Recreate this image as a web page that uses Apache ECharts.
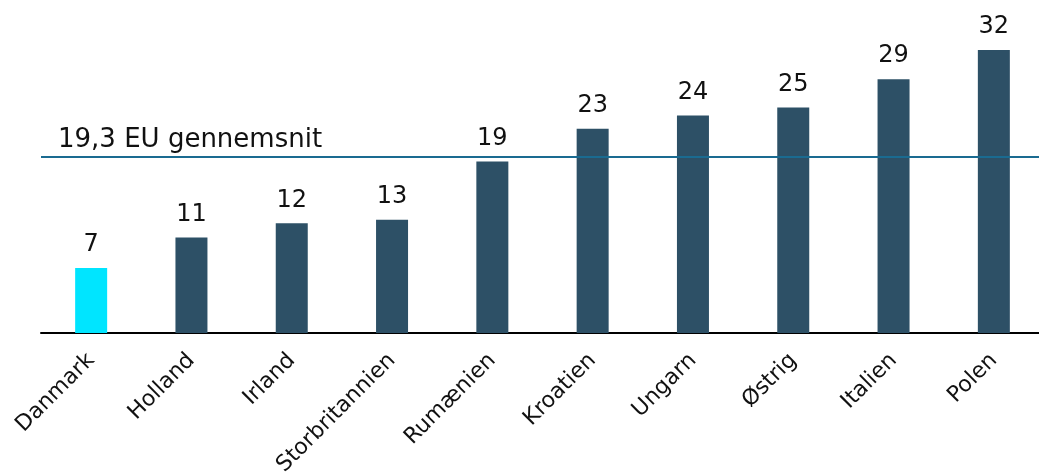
<!DOCTYPE html>
<html>
<head>
<meta charset="utf-8">
<script src="https://cdn.jsdelivr.net/npm/echarts@6/dist/echarts.min.js"></script>
<style>
html,body{margin:0;padding:0;background:#fff;}
#chart{width:1039px;height:474px;}
</style>
</head>
<body>
<div id="chart"></div>
<script>
var categories = ['Danmark','Holland','Irland','Storbritannien','Rumænien','Kroatien','Ungarn','Østrig','Italien','Polen'];
var values = [7.35, 10.8, 12.4, 12.8, 19.4, 23.1, 24.6, 25.5, 28.7, 32];
var valueLabels = ['7','11','12','13','19','23','24','25','29','32'];
var highlightCategory = 'Danmark';
var euLevel = 19.9;
var euText = '19,3 EU gennemsnit';

var FONT = 'DejaVu Sans';
var chart = echarts.init(document.getElementById('chart'), null, {renderer:'canvas'});
chart.setOption({
  animation: false,
  backgroundColor: '#fff',
  grid: {left: 41, right: -5, top: 50, bottom: 141, containLabel: false, outerBoundsMode: 'none'},
  xAxis: {
    type: 'category',
    data: categories,
    axisLine: {show: true, lineStyle: {color: '#000', width: 2}},
    axisTick: {show: false},
    splitLine: {show: false},
    axisLabel: {
      interval: 0, rotate: 45, margin: 24,
      fontFamily: FONT, fontSize: 22, color: '#111'
    }
  },
  yAxis: {
    type: 'value', min: 0, max: 32, show: false,
    splitLine: {show: false}
  },
  series: [{
    type: 'bar',
    barWidth: 32,
    data: values.map(function(v, i){
      return {
        value: v,
        itemStyle: {color: categories[i] === highlightCategory ? '#00E5FF' : '#2D5066'}
      };
    }),
    label: {
      show: true, position: 'top', distance: 11,
      fontFamily: FONT, fontSize: 24, color: '#111',
      formatter: function(p){ return valueLabels[p.dataIndex]; }
    },
    markLine: {
      silent: true,
      symbol: ['none','none'],
      lineStyle: {color: '#1A6B91', width: 2, type: 'solid'},
      label: {
        show: true, position: 'insideStartTop',
        distance: [17, 4],
        formatter: euText,
        fontFamily: FONT, fontSize: 26, color: '#111'
      },
      data: [{yAxis: euLevel}]
    }
  }]
});
</script>
</body>
</html>
